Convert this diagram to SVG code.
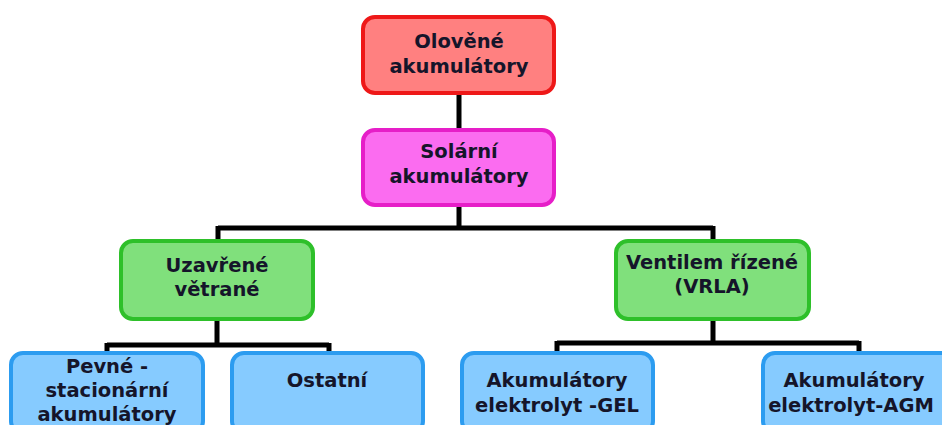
<svg xmlns="http://www.w3.org/2000/svg" width="942" height="425" viewBox="0 0 942 425">
<style>
.box{stroke-width:4}
.red{fill:#ff8080;stroke:#ee1818}
.pink{fill:#fb6cf0;stroke:#e61ec8}
.green{fill:#80e07c;stroke:#2ec02a}
.blue{fill:#86cbff;stroke:#2c9cf0}
text{font-family:"DejaVu Sans",Verdana,sans-serif;font-weight:bold;font-size:19.5px;fill:#15152a;text-anchor:middle}
.conn{fill:none;stroke:#000;stroke-width:5}
</style>
<rect width="942" height="425" fill="#fff"/>
<g id="connectors">
<path class="conn" d="M459 93V130"/>
<path class="conn" d="M459 205V228M218 228H713M218 226V241M713 226V241"/>
<path class="conn" d="M217 319V345M107 345H329M107 343V353M329 343V353"/>
<path class="conn" d="M713 319V343M557 343H859M557 341V353M859 341V353"/>
</g>
<g id="olovene">
<rect class="box red" x="363" y="17" width="191" height="76" rx="12"/>
<text x="459" y="48">Olověné</text>
<text x="459" y="73">akumulátory</text>
</g>
<g id="solarni">
<rect class="box pink" x="363" y="130" width="191" height="75" rx="12"/>
<text x="459" y="158">Solární</text>
<text x="459" y="183">akumulátory</text>
</g>
<g id="uzavrene">
<rect class="box green" x="121" y="241" width="192" height="78" rx="12"/>
<text x="217" y="272">Uzavřené</text>
<text x="217" y="296">větrané</text>
</g>
<g id="ventilem">
<rect class="box green" x="616" y="241" width="193" height="78" rx="12"/>
<text x="712" y="269">Ventilem řízené</text>
<text x="712" y="293">(VRLA)</text>
</g>
<g id="pevne">
<rect class="box blue" x="11" y="353" width="192" height="80" rx="12"/>
<text x="107" y="373">Pevné -</text>
<text x="107" y="397">stacionární</text>
<text x="107" y="421">akumulátory</text>
</g>
<g id="ostatni">
<rect class="box blue" x="232" y="353" width="191" height="80" rx="12"/>
<text x="327" y="387">Ostatní</text>
</g>
<g id="gel">
<rect class="box blue" x="462" y="353" width="191" height="80" rx="12"/>
<text x="557" y="387">Akumulátory</text>
<text x="557" y="412">elektrolyt -GEL</text>
</g>
<g id="agm">
<rect class="box blue" x="763" y="353" width="192" height="80" rx="12"/>
<text x="854" y="387">Akumulátory</text>
<text x="851" y="412">elektrolyt-AGM</text>
</g>
</svg>
